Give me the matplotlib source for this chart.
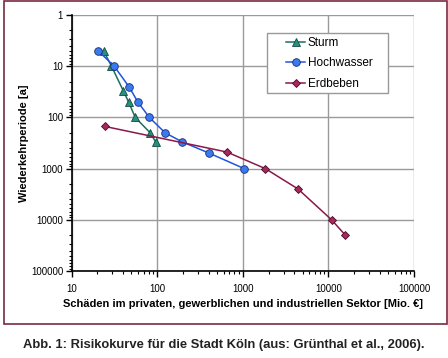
import matplotlib.pyplot as plt
from matplotlib.patches import Rectangle
from matplotlib.ticker import LogLocator, NullFormatter, FixedLocator, FixedFormatter

plt.rcParams['font.family'] = ['Liberation Sans', 'DejaVu Sans']

# data (damage in Mio. EUR, return period in years)
sturm_x = [23.7, 29.3, 40.2, 46.4, 55.5, 83, 96]
sturm_y = [5, 10, 30, 50, 100, 200, 300]

hoch_x = [20.5, 31.5, 46.8, 59.6, 81, 124, 196, 406, 1040]
hoch_y = [5, 10, 25, 50, 100, 200, 300, 500, 1000]

erd_x = [24.5, 654, 1834, 4420, 10900, 15800]
erd_y = [150, 475, 1000, 2500, 10000, 20000]

x_ticks = [10, 100, 1000, 10000, 100000]
y_ticks = [1, 10, 100, 1000, 10000, 100000]

W, H = 448, 358
fig = plt.figure(figsize=(W / 100, H / 100), dpi=100)
ax = fig.add_axes([71.5 / W, 1 - 271 / H, (414 - 71.5) / W, (271 - 15) / H])

ax.plot(sturm_x, sturm_y, color='#1d6e60', marker='^', markersize=5.5,
        markerfacecolor='#27907c', markeredgecolor='#0f4a40', markeredgewidth=0.6,
        linewidth=1.1, label='Sturm', zorder=3)
ax.plot(hoch_x, hoch_y, color='#1f55e0', marker='o', markersize=5.5,
        markerfacecolor='#3a7af0', markeredgecolor='#1a2e70', markeredgewidth=0.6,
        linewidth=1.1, label='Hochwasser', zorder=3)
ax.plot(erd_x, erd_y, color='#8a1848', marker='D', markersize=3.8,
        markerfacecolor='#a8285e', markeredgecolor='#4a0a26', markeredgewidth=0.6,
        linewidth=1.1, label='Erdbeben', zorder=3)

ax.set_xscale('log')
ax.set_yscale('log')
ax.set_xlim(10, 100000)
ax.set_ylim(100000, 1)

ax.xaxis.set_major_locator(FixedLocator(x_ticks))
ax.xaxis.set_major_formatter(FixedFormatter([str(v) for v in x_ticks]))
ax.yaxis.set_major_locator(FixedLocator(y_ticks))
ax.yaxis.set_major_formatter(FixedFormatter([str(v) for v in y_ticks]))
ax.xaxis.set_minor_locator(LogLocator(base=10, subs=range(2, 10)))
ax.yaxis.set_minor_locator(LogLocator(base=10, subs=range(2, 10)))
ax.xaxis.set_minor_formatter(NullFormatter())
ax.yaxis.set_minor_formatter(NullFormatter())

ax.tick_params(which='major', length=4, width=1, labelsize=7, direction='out')
ax.tick_params(which='minor', length=2.5, width=0.8, direction='out')
ax.tick_params(axis='x', which='major', pad=5)
ax.tick_params(axis='y', which='major', pad=2)

ax.grid(which='major', color='#9a9a9a', linewidth=1)
ax.set_axisbelow(True)
for s in ['top', 'right']:
    ax.spines[s].set_visible(False)
for s in ['left', 'bottom']:
    ax.spines[s].set_linewidth(1.2)

ax.set_xlabel('Schäden im privaten, gewerblichen und industriellen Sektor [Mio. €]',
              fontsize=8, fontweight='bold', labelpad=4)
ax.set_ylabel('Wiederkehrperiode [a]', fontsize=8, fontweight='bold', labelpad=1.5)

# legend box drawn by hand (white, grey edge), entries placed inside it
box = Rectangle((267 / W, 1 - 93 / H), 121 / W, 60 / H, transform=fig.transFigure,
                facecolor='white', edgecolor='#999999', linewidth=1, zorder=4)
ax.add_artist(box)
box.set_clip_on(False)
leg = ax.legend(loc='upper left', bbox_to_anchor=(286 / W, 1 - 37 / H),
                bbox_transform=fig.transFigure, fontsize=8.5, frameon=False,
                borderpad=0, borderaxespad=0, handlelength=1.65,
                labelspacing=0.72, handletextpad=0.2)
leg.set_zorder(5)

# maroon border around the chart
fig.patches.append(Rectangle((3.5 / W, 1 - 324 / H), 443 / W, 323 / H,
                             transform=fig.transFigure, fill=False,
                             edgecolor='#7a2a40', linewidth=1.2))

fig.text(0.5, 1 - 345 / H,
         'Abb. 1: Risikokurve für die Stadt Köln (aus: Grünthal et al., 2006).',
         ha='center', va='center', fontsize=9.4, fontweight='bold', color='#222222')

fig.savefig('out.png', dpi=100)
